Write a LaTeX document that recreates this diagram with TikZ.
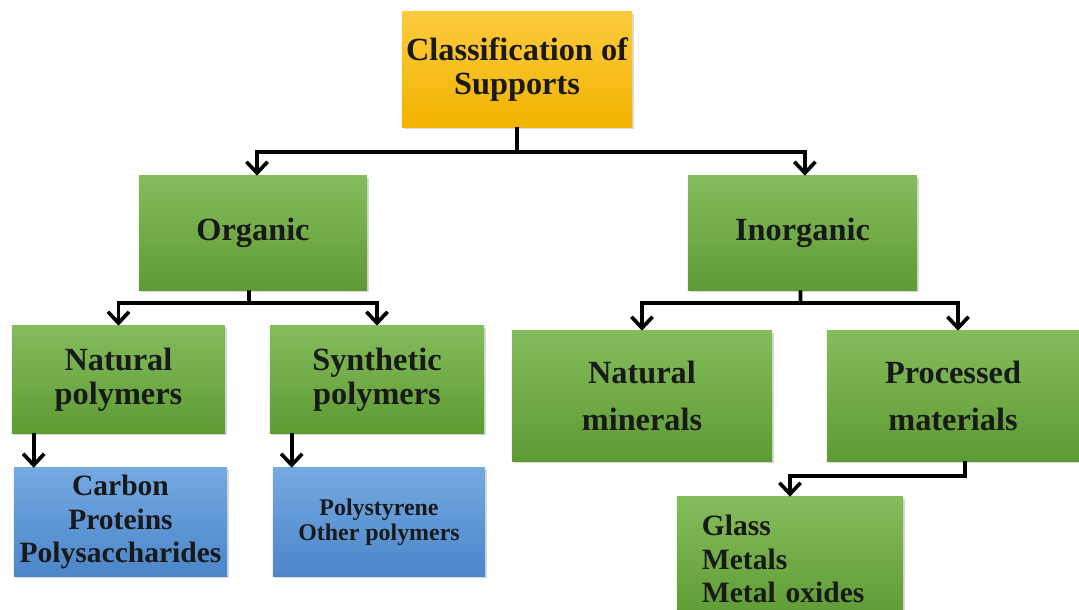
\documentclass[tikz,border=0pt]{standalone}
\usepackage{fontspec}
\setmainfont{Liberation Serif}
\usepackage{tikz}
\usetikzlibrary{arrows.meta, positioning, calc, shadows}

\definecolor{grnTop}{HTML}{84BD5C}
\definecolor{grnBot}{HTML}{5E9B33}
\definecolor{ylwTop}{HTML}{FCCB3E}
\definecolor{ylwBot}{HTML}{F2B300}
\definecolor{bluTop}{HTML}{74A9E2}
\definecolor{bluBot}{HTML}{4C86C9}

\tikzset{
    boxBase/.style={rectangle, inner sep=0pt, align=center, text=black!90,
        drop shadow={shadow xshift=1.2pt, shadow yshift=-1.2pt, opacity=0.3}},
    rootBox/.style={boxBase, top color=ylwTop, bottom color=ylwBot},
    greenBox/.style={boxBase, top color=grnTop, bottom color=grnBot},
    blueBox/.style={boxBase, top color=bluTop, bottom color=bluBot},
    bigText/.style={font=\fontsize{23}{24}\selectfont\bfseries},
    wideText/.style={font=\fontsize{23}{33}\selectfont\bfseries},
    leafText/.style={font=\fontsize{21}{24}\selectfont\bfseries},
    smallText/.style={font=\fontsize{17}{18}\selectfont\bfseries},
    treeLine/.style={line width=2.6pt},
    treeArrow/.style={line width=2.6pt, -{Straight Barb[length=8pt, width=15pt]}}
}

\begin{document}
\begin{tikzpicture}[x=0.025cm, y=-0.025cm]

        % Frame (pixel grid of the page)
        \clip (0,0) rectangle (1079,610);

        % 1. Boxes
        \node[rootBox, bigText, minimum width=5.75cm, minimum height=2.875cm]
            (cls) at (517,69.5) {Classification of\\Supports};

        \node[greenBox, bigText, minimum width=5.7cm, minimum height=2.85cm]
            (org) at (253,233) {Organic};
        \node[greenBox, bigText, minimum width=5.725cm, minimum height=2.85cm]
            (inorg) at (802.5,233) {Inorganic};

        \node[greenBox, bigText, minimum width=5.325cm, minimum height=2.675cm]
            (natPoly) at (118.5,379.5) {Natural\\polymers};
        \node[greenBox, bigText, minimum width=5.35cm, minimum height=2.675cm]
            (synPoly) at (377,379.5) {Synthetic\\polymers};
        \node[greenBox, wideText, minimum width=6.5cm, minimum height=3.25cm]
            (natMin) at (642,396) {Natural\\minerals};
        \node[greenBox, wideText, minimum width=6.3cm, minimum height=3.25cm]
            (procMat) at (953,396) {Processed\\materials};

        \node[blueBox, leafText, minimum width=5.325cm, minimum height=2.7cm]
            (natLeaf) at (120.5,522) {Carbon\\Proteins\\Polysaccharides};
        \node[blueBox, smallText, minimum width=5.3cm, minimum height=2.7cm]
            (synLeaf) at (379,522) {Polystyrene\\Other polymers};
        \node[greenBox, leafText, align=left, inner xsep=0.625cm, text width=4.4cm,
            minimum height=3.1cm]
            (procLeaf) at (790,559) {Glass\\Metals\\Metal oxides};

        % 2. Connectors
        \coordinate (j1) at (517,152);
        \draw[treeLine] (cls.south) -- (j1);
        \draw[treeArrow] (j1) -| ([xshift=0.1cm]org.north);
        \draw[treeArrow] (j1) -| ([xshift=0.06cm]inorg.north);

        \coordinate (j2) at ($(org.south)+(-4,13)$);
        \draw[treeLine] ([xshift=-0.1cm]org.south) -- (j2);
        \draw[treeArrow] (j2) -| (natPoly.north);
        \draw[treeArrow] (j2) -| (synPoly.north);

        \coordinate (j3) at ($(inorg.south)+(-2,13)$);
        \draw[treeLine] ([xshift=-0.05cm]inorg.south) -- (j3);
        \draw[treeArrow] (j3) -| (natMin.north);
        \draw[treeArrow] (j3) -| ([xshift=0.125cm]procMat.north);

        % 3. Leaf arrows
        \coordinate (a1) at ($(natPoly.south west)+(22,0)$);
        \draw[treeArrow] (a1) -- (a1 |- natLeaf.north);
        \coordinate (a2) at ($(synPoly.south west)+(22,0)$);
        \draw[treeArrow] (a2) -- (a2 |- synLeaf.north);
        \coordinate (a3) at ($(procMat.south)+(12,0)$);
        \draw[treeArrow] (a3) -- ++(0,15) -| (procLeaf.north);

\end{tikzpicture}
\end{document}
